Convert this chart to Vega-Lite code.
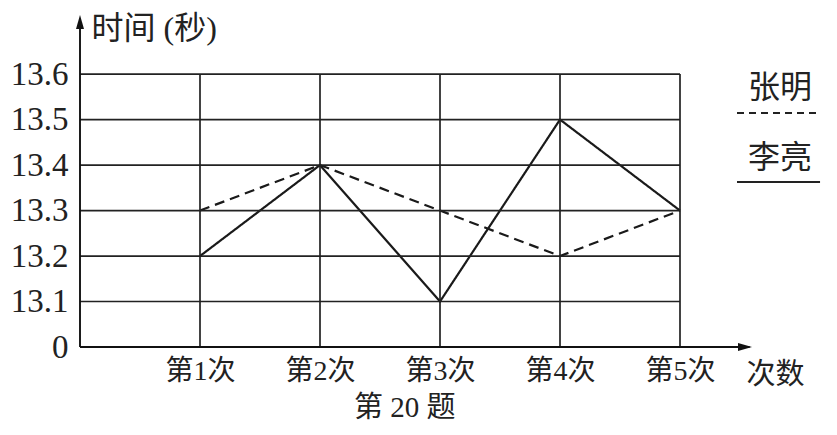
{
  "$schema": "https://vega.github.io/schema/vega-lite/v6.json",
  "width": 756,
  "height": 332,
  "autosize": "none",
  "padding": {"left": 80, "top": 15, "right": 1, "bottom": 88},
  "background": "white",
  "config": {
    "view": {"stroke": null},
    "font": "Liberation Serif, Noto Sans CJK SC",
    "text": {"font": "Liberation Serif, Noto Sans CJK SC"}
  },
  "title": {
    "text": "第 20 题",
    "orient": "bottom",
    "anchor": "start",
    "frame": "group",
    "dx": 274,
    "offset": 5,
    "fontSize": 29,
    "fontWeight": "normal",
    "color": "#222",
    "font": "Liberation Serif, Noto Sans CJK SC"
  },
  "datasets": {
    "times": [
      {"name": "张明", "round": 1, "time": 13.3},
      {"name": "张明", "round": 2, "time": 13.4},
      {"name": "张明", "round": 3, "time": 13.3},
      {"name": "张明", "round": 4, "time": 13.2},
      {"name": "张明", "round": 5, "time": 13.3},
      {"name": "李亮", "round": 1, "time": 13.2},
      {"name": "李亮", "round": 2, "time": 13.4},
      {"name": "李亮", "round": 3, "time": 13.1},
      {"name": "李亮", "round": 4, "time": 13.5},
      {"name": "李亮", "round": 5, "time": 13.3}
    ],
    "hgrid": [{"v": 13.1}, {"v": 13.2}, {"v": 13.3}, {"v": 13.4}, {"v": 13.5}, {"v": 13.6}],
    "vgrid": [{"n": 1}, {"n": 2}, {"n": 3}, {"n": 4}, {"n": 5}]
  },
  "layer": [
    {
      "data": {"name": "times"},
      "mark": {"type": "line", "color": "#1a1a1a", "strokeWidth": 2.2},
      "encoding": {
        "x": {
          "field": "round",
          "type": "quantitative",
          "scale": {"domain": [0, 6.3], "nice": false, "zero": false},
          "axis": {
            "values": [1, 2, 3, 4, 5],
            "labelExpr": "'第' + datum.value + '次'",
            "labelFontSize": 28,
            "labelPadding": 10,
            "labelColor": "#222",
            "labelFlush": false,
            "labelOverlap": false,
            "domain": false,
            "ticks": false,
            "grid": false,
            "title": "次数",
            "titleFontSize": 29,
            "titleFontWeight": "normal",
            "titleColor": "#222",
            "titleX": 695,
            "titleY": 27,
            "titleAlign": "center",
            "titleBaseline": "middle"
          }
        },
        "y": {
          "field": "time",
          "type": "quantitative",
          "scale": {"domain": [0, 13, 13.73], "range": [332, 332, 0], "nice": false, "zero": false},
          "axis": {
            "values": [0, 13.1, 13.2, 13.3, 13.4, 13.5, 13.6],
            "labelExpr": "datum.value == 0 ? '0' : format(datum.value, '.1f')",
            "labelFontSize": 33,
            "labelPadding": 12,
            "labelColor": "#222",
            "labelOverlap": false,
            "domain": false,
            "ticks": false,
            "grid": false,
            "title": "时间 (秒)",
            "titleAngle": 0,
            "titleFontSize": 32,
            "titleFontWeight": "normal",
            "titleColor": "#222",
            "titleX": 11,
            "titleY": 13,
            "titleAlign": "left",
            "titleBaseline": "middle"
          }
        },
        "strokeDash": {
          "field": "name",
          "type": "nominal",
          "scale": {"domain": ["张明", "李亮"], "range": [[10, 6], [1, 0]]},
          "legend": null
        }
      }
    },
    {
      "data": {"name": "hgrid"},
      "mark": {"type": "rule", "color": "#222", "strokeWidth": 1.7},
      "encoding": {
        "x": {"datum": 0, "type": "quantitative"},
        "x2": {"datum": 5},
        "y": {"field": "v", "type": "quantitative"}
      }
    },
    {
      "data": {"name": "vgrid"},
      "mark": {"type": "rule", "color": "#222", "strokeWidth": 1.7},
      "encoding": {
        "x": {"field": "n", "type": "quantitative"},
        "y": {"datum": 0, "type": "quantitative"},
        "y2": {"datum": 13.6}
      }
    },
    {
      "data": {"values": [{}]},
      "mark": {"type": "rule", "color": "#111", "strokeWidth": 1.9},
      "encoding": {
        "x": {"datum": 0, "type": "quantitative"},
        "x2": {"datum": 5.58},
        "y": {"datum": 0, "type": "quantitative"}
      }
    },
    {
      "data": {"values": [{}]},
      "mark": {"type": "rule", "color": "#111", "strokeWidth": 1.9},
      "encoding": {
        "x": {"datum": 0, "type": "quantitative"},
        "y": {"datum": 0, "type": "quantitative"},
        "y2": {"datum": 13.72}
      }
    },
    {
      "data": {"values": [{}]},
      "mark": {"type": "point", "filled": true, "color": "#111", "opacity": 1, "size": 400, "shape": "M0,0 L-1.4,-0.4 L-1.4,0.4 Z"},
      "encoding": {
        "x": {"datum": 5.6, "type": "quantitative"},
        "y": {"datum": 0, "type": "quantitative"}
      }
    },
    {
      "data": {"values": [{}]},
      "mark": {"type": "point", "filled": true, "color": "#111", "opacity": 1, "size": 400, "shape": "M0,0 L-0.4,1.4 L0.4,1.4 Z"},
      "encoding": {
        "x": {"datum": 0, "type": "quantitative"},
        "y": {"datum": 13.73, "type": "quantitative"}
      }
    },
    {
      "data": {"values": [{"name": "张明"}]},
      "mark": {"type": "text", "fontSize": 32, "color": "#222", "align": "center", "baseline": "middle"},
      "encoding": {
        "text": {"field": "name"},
        "x": {"datum": 5.833, "type": "quantitative"},
        "y": {"datum": 13.5695, "type": "quantitative"}
      }
    },
    {
      "data": {"values": [{"name": "李亮"}]},
      "mark": {"type": "text", "fontSize": 32, "color": "#222", "align": "center", "baseline": "middle"},
      "encoding": {
        "text": {"field": "name"},
        "x": {"datum": 5.833, "type": "quantitative"},
        "y": {"datum": 13.4156, "type": "quantitative"}
      }
    },
    {
      "data": {"values": [{"name": "张明"}]},
      "mark": {"type": "rule", "color": "#222", "strokeWidth": 2, "strokeDash": [7, 5]},
      "encoding": {
        "x": {"datum": 5.475, "type": "quantitative"},
        "x2": {"datum": 6.167},
        "y": {"datum": 13.5145, "type": "quantitative"}
      }
    },
    {
      "data": {"values": [{"name": "李亮"}]},
      "mark": {"type": "rule", "color": "#222", "strokeWidth": 2},
      "encoding": {
        "x": {"datum": 5.475, "type": "quantitative"},
        "x2": {"datum": 6.167},
        "y": {"datum": 13.3628, "type": "quantitative"}
      }
    }
  ]
}
